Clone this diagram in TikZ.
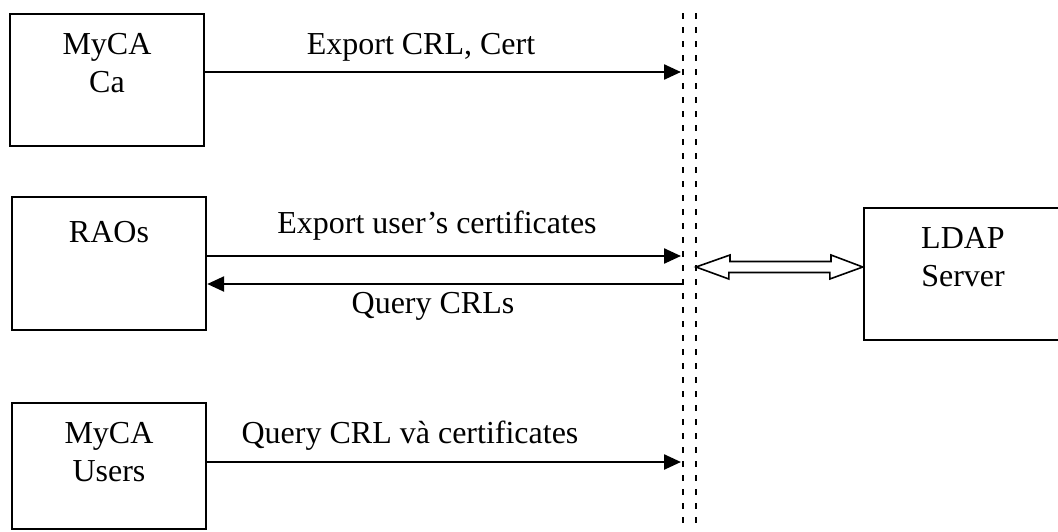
\documentclass[tikz,border=0pt]{standalone}
\usepackage{fontspec}
\setmainfont{Liberation Serif}
\usetikzlibrary{arrows.meta}
\begin{document}
\begin{tikzpicture}[x=1pt,y=-1pt,
  box/.style={draw,line width=2.4pt,rectangle,inner sep=0pt},
  txt/.style={inner sep=0pt,align=center,font=\fontsize{32}{38}\selectfont},
  flow/.style={line width=2.4pt,-{Triangle[length=17pt,width=15pt]}},
  divider/.style={line width=2.4pt,dash pattern=on 6pt off 8pt}]
\useasboundingbox (0,0) rectangle (1058,531);

% entities
\node[box,minimum width=194pt,minimum height=132pt] (ca) at (107,80) {};
\node[box,minimum width=194pt,minimum height=133pt] (raos) at (109,263.5) {};
\node[box,minimum width=194pt,minimum height=126pt] (users) at (109,466) {};
\node[box,minimum width=198pt,minimum height=132pt] (ldap) at (963,274) {};

% node base sits on the last line of a two-line label
\node[txt,anchor=base] (catxt) at (107,92) {MyCA\\Ca};
\node[txt,anchor=base] (raostxt) at (109,242) {RAOs};
\node[txt,anchor=base] (userstxt) at (109,481) {MyCA\\Users};
\node[txt,anchor=base] (ldaptxt) at (963,286) {LDAP\\Server};

% directory boundary
\coordinate (d1t) at (683,13);
\coordinate (d1b) at (683,525);
\coordinate (d2t) at (696,13);
\coordinate (d2b) at (696,525);
\draw[divider] (d1t) -- (d1b);
\draw[divider] (d2t) -- (d2b);

% message endpoints on the boundary
\coordinate (e1) at (681,72);
\coordinate (e2) at (681,256);
\coordinate (e3) at (683,284);
\coordinate (e4) at (681,462);

\draw[flow] (ca.east |- e1) -- (e1);
\draw[flow] (raos.east |- e2) -- (e2);
\draw[flow] (e3) -- (raos.east |- e3);
\draw[flow] (users.east |- e4) -- (e4);

\node[txt,anchor=base] (l1) at (421,54) {Export CRL, Cert};
\node[txt,anchor=base] (l2) at (437,233) {Export user’s certificates};
\node[txt,anchor=base] (l3) at (433,313) {Query CRLs};
\node[txt,anchor=base] (l4) at (410,443) {Query CRL và certificates};

% two-way link to the LDAP server
\coordinate (tl) at (696,267);
\coordinate (tr) at (ldap.west |- tl);
\draw[line width=1.6pt,line join=miter]
  (tl) -- ++(34,-12) -- ++(0,6.5) -- ++(101,0) -- ++(0,-6.5) -- (tr)
  -- ++(-33,12) -- ++(0,-6.5) -- ++(-101,0) -- ++(0,6.5) -- cycle;
\end{tikzpicture}
\end{document}
